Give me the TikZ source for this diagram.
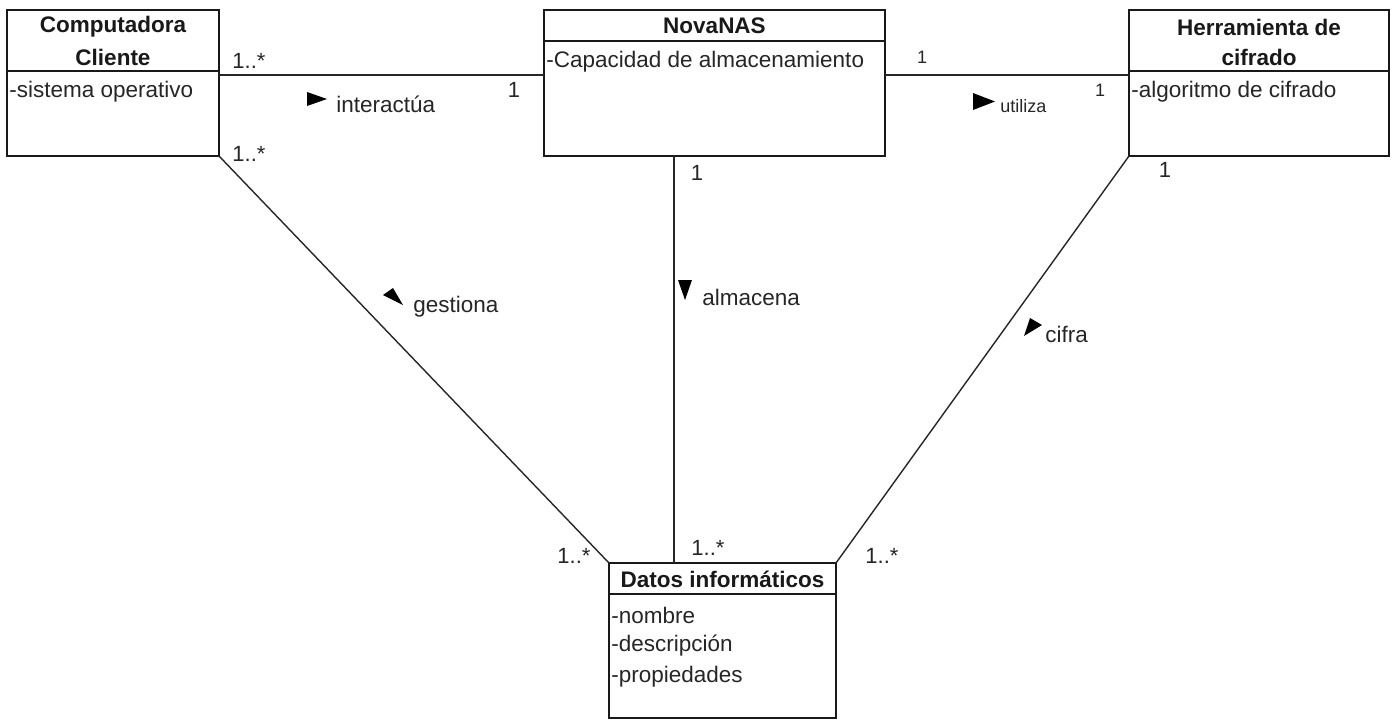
\documentclass[tikz,border=0pt]{standalone}
\usepackage{fontspec}
\setmainfont{Liberation Sans}
\begin{document}
\begin{tikzpicture}[x=0.5pt,y=-0.5pt,
  cls/.style={draw=black!90, line width=0.8pt, fill=white, anchor=north west,
              inner sep=0pt, outer sep=0pt},
  sep/.style={draw=black!90, line width=0.8pt},
  hd/.style={font=\fontsize{11.25}{13}\selectfont\bfseries, inner sep=0pt, text=black!90},
  attr/.style={font=\fontsize{11.25}{13}\selectfont, inner sep=0pt, anchor=west, text=black!85},
  mult/.style={font=\fontsize{11}{13}\selectfont, inner sep=0pt, text=black!85},
  smult/.style={font=\fontsize{9}{11}\selectfont, inner sep=0pt, text=black!85},
  lbl/.style={font=\fontsize{11.25}{13}\selectfont, inner sep=0pt, anchor=west, text=black!85},
  slbl/.style={font=\fontsize{9}{11}\selectfont, inner sep=0pt, anchor=west, text=black!85},
  assoc/.style={draw=black!85, line width=0.7pt},
  dirtri/.style={fill=black}]

\useasboundingbox (0,0) rectangle (1394,724);

% class boxes
\node[cls, minimum width=106pt,   minimum height=73pt]   (cc)  at (7,10)   {};
\node[cls, minimum width=170.5pt, minimum height=73pt]   (nas) at (544,10) {};
\node[cls, minimum width=130pt,   minimum height=73pt]   (her) at (1129,10) {};
\node[cls, minimum width=113.5pt, minimum height=77.5pt] (dat) at (609,563) {};

% associations
\draw[assoc] (cc.north east |- 0,75) -- (nas.north west |- 0,75);
\draw[assoc] (nas.north east |- 0,75) -- (her.north west |- 0,75);
\draw[assoc] (cc.south east) -- (dat.north west);
\draw[assoc] (nas.south -| 674,0) -- (dat.north -| 674,0);
\draw[assoc] (her.south west) -- (dat.north east);

% compartment separators
\draw[sep] (cc.west |- 0,71)  -- (cc.east |- 0,71);
\draw[sep] (nas.west |- 0,41) -- (nas.east |- 0,41);
\draw[sep] (her.west |- 0,71) -- (her.east |- 0,71);
\draw[sep] (dat.west |- 0,594) -- (dat.east |- 0,594);

% class names and attributes
\node[hd] (cc-n1) at (113,27) {Computadora};
\node[hd] (cc-n2) at (113,57) {Cliente};
\node[attr] (cc-a1) at (9,92) {-sistema operativo};

\node[hd] (nas-n) at (714.5,26) {NovaNAS};
\node[attr] (nas-a1) at (546,62) {-Capacidad de almacenamiento};

\node[hd] (her-n1) at (1259,27) {Herramienta de};
\node[hd] (her-n2) at (1259,57) {cifrado};
\node[attr] (her-a1) at (1131,92) {-algoritmo de cifrado};

\node[hd] (dat-n) at (722.5,579) {Datos informáticos};
\node[attr] (dat-a1) at (611,615) {-nombre};
\node[attr] (dat-a2) at (611,646) {-descripción};
\node[attr] (dat-a3) at (611,677) {-propiedades};

% multiplicities
\node[mult]  (m1) at (249,61)  {1..*};
\node[mult]  (m2) at (514,90)  {1};
\node[smult] (m3) at (922,57)  {1};
\node[smult] (m4) at (1100,90) {1};
\node[mult]  (m5) at (249,154) {1..*};
\node[mult]  (m6) at (697,173) {1};
\node[mult]  (m7) at (1165,170) {1};
\node[mult]  (m8) at (574,556) {1..*};
\node[mult]  (m9) at (708,548) {1..*};
\node[mult]  (m10) at (882,556) {1..*};

% association names with reading direction
\fill[dirtri] (307,92) -- (307,106) -- (327,99) -- cycle;
\node[lbl] (l1) at (336,104) {interactúa};

\fill[dirtri] (973,93) -- (973,110) -- (995,101.5) -- cycle;
\node[slbl] (l2) at (1000,106) {utiliza};

\fill[dirtri] (678,280) -- (692,280) -- (685,300) -- cycle;
\node[lbl] (l3) at (702,297) {almacena};

\fill[dirtri] (383,295) -- (393,288) -- (403,305) -- cycle;
\node[lbl] (l4) at (413,307) {gestiona};

\fill[dirtri] (1030,318) -- (1042,325) -- (1024,336) -- cycle;
\node[lbl] (l5) at (1045,334) {cifra};
\end{tikzpicture}
\end{document}
